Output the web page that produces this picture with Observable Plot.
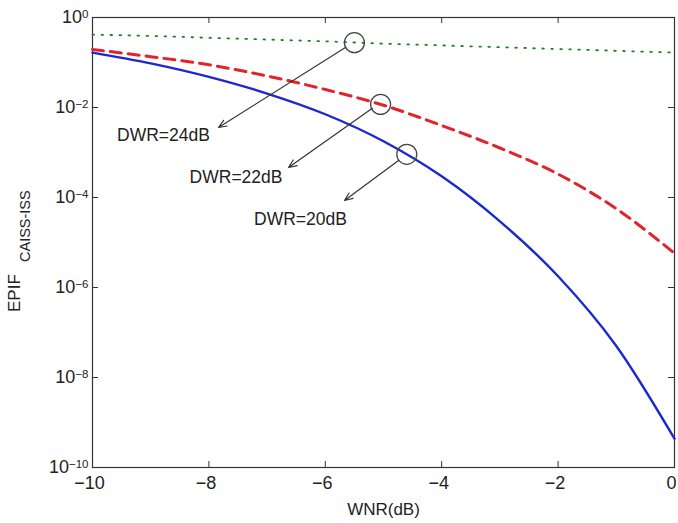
<!DOCTYPE html>
<html><head><meta charset="utf-8">
<script src="https://cdn.jsdelivr.net/npm/d3@7"></script>
<script src="https://cdn.jsdelivr.net/npm/@observablehq/plot@0.6"></script>
<style>
html,body{margin:0;padding:0;background:#fff;}
#chart{width:678px;height:523px;}
</style>
</head><body><div id="chart"></div>
<script>
// ---- data ----
const wnr = [-10, -9, -8, -7, -6, -5, -4, -3, -2, -1, 0];
// log10(EPIF) for each DWR curve
const logEpifDWR20 = [-0.78, -1.02, -1.32, -1.69, -2.15, -2.75, -3.53, -4.53, -5.75, -7.30, -9.36];
const logEpifDWR22 = [-0.71, -0.87, -1.05, -1.30, -1.60, -1.95, -2.40, -2.90, -3.48, -4.25, -5.24];
const logEpifDWR24 = [-0.38, -0.41, -0.45, -0.49, -0.53, -0.58, -0.62, -0.66, -0.70, -0.74, -0.78];
const xTicks = [-10, -8, -6, -4, -2, 0];
const yTickExponents = [0, -2, -4, -6, -8, -10];
// annotations (data coordinates: WNR, log10 EPIF)
const annLabels = ["DWR=20dB", "DWR=22dB", "DWR=24dB"];
const circleX = [-4.60, -5.05, -5.50];
const circleLog = [-3.04, -1.93, -0.56];
const arrowStartX = [-4.742, -5.192, -5.662];
const arrowStartLog = [-3.178, -2.018, -0.673];
const arrowEndX = [-5.670, -6.632, -7.835];
const arrowEndLog = [-4.067, -3.333, -2.444];
const labelX = [-6.426, -7.534, -8.78];
const labelLog = [-4.489, -3.556, -2.622];

// ---- build tables ----
const toRows = (vals) => wnr.map((x, i) => ({x, y: 10 ** vals[i]}));
const rows20 = toRows(logEpifDWR20);
const rows22 = toRows(logEpifDWR22);
const rows24 = toRows(logEpifDWR24);
const yTicks = yTickExponents.map(e => 10 ** e);
const ann = annLabels.map((t, i) => ({
  text: t,
  cx: circleX[i], cy: 10 ** circleLog[i],
  x1: arrowStartX[i], y1: 10 ** arrowStartLog[i],
  x2: arrowEndX[i], y2: 10 ** arrowEndLog[i],
  lx: labelX[i], ly: 10 ** labelLog[i]
}));

const font = "'Liberation Sans', Arial, Helvetica, sans-serif";
const axisColor = "#333";

const plot = Plot.plot({
  width: 678, height: 523,
  marginLeft: 92, marginRight: 4, marginTop: 17, marginBottom: 56,
  style: {fontFamily: font, fontSize: "18px", color: "#222", background: "#fff", overflow: "visible"},
  x: {domain: [-10, 0]},
  y: {type: "log", domain: [1e-10, 1]},
  marks: [
    Plot.frame({stroke: axisColor, strokeWidth: 1.2}),
    // inward ticks on all four sides
    Plot.tickX(xTicks, {x: d => d, insetTop: 444, stroke: axisColor}),
    Plot.tickX(xTicks, {x: d => d, insetBottom: 444, stroke: axisColor}),
    Plot.tickY(yTicks, {y: d => d, insetRight: 576, stroke: axisColor}),
    Plot.tickY(yTicks, {y: d => d, insetLeft: 576, stroke: axisColor}),
    Plot.axisX(xTicks, {tickSize: 0, tickPadding: 9, dx: -3, label: null, fontSize: 18}),
    Plot.axisY(yTicks, {tickSize: 0, tickPadding: 4, label: null, fontSize: 18,
      tickFormat: d => "10^" + Math.round(Math.log10(d))}),
    Plot.text(["WNR(dB)"], {frameAnchor: "bottom", dy: 47, fontSize: 17, fill: "#222"}),
    // curves
    Plot.line(rows24, {x: "x", y: "y", stroke: "#228022", strokeWidth: 1.8, strokeDasharray: "1.6,7.4", curve: "monotone-x"}),
    Plot.line(rows22, {x: "x", y: "y", stroke: "#e3232b", strokeWidth: 3, strokeDasharray: "11,7", curve: "monotone-x"}),
    Plot.line(rows20, {x: "x", y: "y", stroke: "#1c28cf", strokeWidth: 2.4, curve: "monotone-x"}),
    // annotations
    Plot.dot(ann, {x: "cx", y: "cy", r: 10, stroke: "#444", fill: "none", strokeWidth: 1.3}),
    Plot.arrow(ann, {x1: "x1", y1: "y1", x2: "x2", y2: "y2", stroke: "#333", strokeWidth: 1.2, headLength: 11, headAngle: 45}),
    Plot.text(ann, {x: "lx", y: "ly", text: "text", fontSize: 17.5, fill: "#222"})
  ]
});
document.getElementById("chart").appendChild(plot);

// superscript exponents on the y tick labels
const svg = d3.select(plot);
svg.selectAll('g[aria-label="y-axis tick label"] text').each(function() {
  const t = this.textContent;
  const idx = t.indexOf("^");
  if (idx < 0) return;
  const base = t.slice(0, idx);
  const exp = t.slice(idx + 1).replace("-", "\u2212");
  const el = d3.select(this);
  el.text(base);
  el.append("tspan").attr("dy", "-0.5em").attr("font-size", "11.5px").text(exp);
});

// y-axis label with subscript (rotated)
const lab = svg.append("g").attr("font-family", font).attr("fill", "#222");
lab.append("text")
  .attr("transform", "translate(19.5,312) rotate(-90)")
  .attr("text-anchor", "start").attr("font-size", "17px").text("EPIF");
lab.append("text")
  .attr("transform", "translate(29.5,262) rotate(-90)")
  .attr("text-anchor", "start").attr("font-size", "14.5px").text("CAISS-ISS");
</script>
</body></html>
